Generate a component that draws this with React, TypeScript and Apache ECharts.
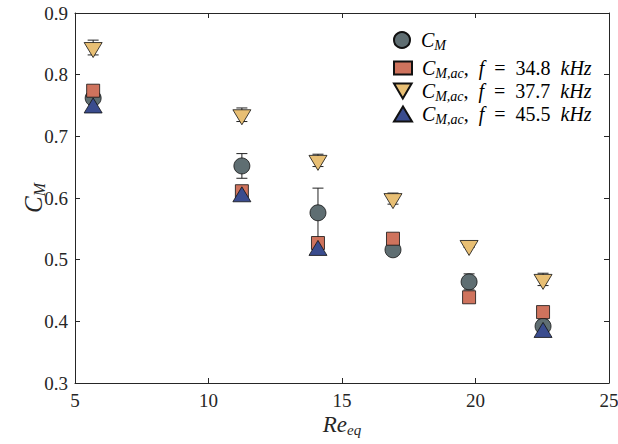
import React, { useEffect, useRef } from "react";
import * as echarts from "echarts";

// Re_eq positions of the six measurement groups
const reEq = [5.68, 11.25, 14.1, 16.91, 19.76, 22.53];
// C_M (circles) and its error half-width
const cM = [0.762, 0.652, 0.576, 0.516, 0.464, 0.392];
const cMErr = [0.005, 0.02, 0.04, 0.004, 0.013, 0.01];
// C_M,ac at f = 34.8 kHz (squares)
const cM348 = [0.774, 0.611, 0.527, 0.534, 0.439, 0.415];
// C_M,ac at f = 37.7 kHz (down triangles) and error half-width
const cM377 = [0.844, 0.735, 0.661, 0.599, 0.523, 0.468];
const cM377Err = [0.012, 0.011, 0.01, 0.009, 0.003, 0.01];
// C_M,ac at f = 45.5 kHz (up triangles), missing at two groups
const cM455: (number | null)[] = [0.746, 0.602, 0.515, null, null, 0.382];

const xTicks = { min: 5, max: 25, interval: 5 };
const yTicks = { min: 0.3, max: 0.9, interval: 0.1 };

const FONT = "'Liberation Serif', 'Times New Roman', Times, serif";
const AX = "#262626";

const legendText: Record<string, string> = {
  CM: "{i|C}{s|M}",
  CM348: "{i|C}{s|M,ac}{r|,  }{i|f}{r|  =  34.8  }{i|kHz}",
  CM377: "{i|C}{s|M,ac}{r|,  }{i|f}{r|  =  37.7  }{i|kHz}",
  CM455: "{i|C}{s|M,ac}{r|,  }{i|f}{r|  =  45.5  }{i|kHz}",
};

const legendRich = {
  i: { fontFamily: FONT, fontStyle: "italic", fontSize: 20, lineHeight: 24, color: "#000" },
  r: { fontFamily: FONT, fontSize: 20, lineHeight: 24, color: "#000" },
  s: { fontFamily: FONT, fontStyle: "italic", fontSize: 14, lineHeight: 15, verticalAlign: "bottom", color: "#000" },
};

const errRender = (params: any, api: any) => {
  const x = api.value(0);
  const lo = api.value(1);
  const hi = api.value(2);
  const t = api.coord([x, hi]);
  const b = api.coord([x, lo]);
  const w = 5.5;
  const style = { stroke: "#222", lineWidth: 1 };
  return {
    type: "group",
    children: [
      { type: "line", shape: { x1: t[0], y1: t[1], x2: b[0], y2: b[1] }, style },
      { type: "line", shape: { x1: t[0] - w, y1: t[1], x2: t[0] + w, y2: t[1] }, style },
      { type: "line", shape: { x1: b[0] - w, y1: b[1], x2: b[0] + w, y2: b[1] }, style },
    ],
  };
};

export default function App() {
  const ref = useRef<HTMLDivElement>(null);
  useEffect(() => {
    if (!ref.current) return;
    const chart = echarts.init(ref.current, null, { renderer: "svg" });

    const pts = (ys: (number | null)[]) =>
      reEq.map((x, i) => [x, ys[i]]).filter((p) => p[1] !== null);
    const errs = (ys: number[], es: number[]) =>
      reEq.map((x, i) => [x, ys[i] - es[i], ys[i] + es[i]]);

    const axisCommon = {
      type: "value",
      axisLine: { show: true, lineStyle: { color: AX, width: 1 } },
      axisTick: { show: true, inside: true, length: 5, lineStyle: { color: AX } },
      splitLine: { show: false },
    };

    const legendItem = (name: string, top: number, w: number, h: number) => ({
      show: true,
      data: [name],
      left: 388,
      top,
      orient: "vertical",
      itemWidth: w,
      itemHeight: h,
      selectedMode: false,
      formatter: (n: string) => legendText[n],
      textStyle: { padding: [0, 0, 0, 5], fontFamily: FONT, rich: legendRich },
    });

    chart.setOption({
      animation: false,
      textStyle: { fontFamily: FONT },
      grid: { left: 75, right: 9, top: 13, bottom: 61, show: false, outerBoundsMode: "none", containLabel: false },
      legend: [
        legendItem("CM", 25, 18, 16),
        legendItem("CM348", 53, 18, 13),
        legendItem("CM377", 76, 18, 15),
        legendItem("CM455", 99, 18, 15),
      ],
      xAxis: [
        {
          ...axisCommon,
          position: "bottom",
          min: xTicks.min,
          max: xTicks.max,
          interval: xTicks.interval,
          axisLabel: { fontSize: 19, color: AX, margin: 8, fontFamily: FONT },
          name: "{i|Re}{s|eq}",
          nameLocation: "middle",
          nameGap: 28,
          nameMoveOverlap: false,
          nameTextStyle: {
            rich: {
              i: { fontFamily: FONT, fontStyle: "italic", fontSize: 23, lineHeight: 26, color: AX },
              s: { fontFamily: FONT, fontStyle: "italic", fontSize: 15, lineHeight: 15, verticalAlign: "bottom", color: AX },
            },
          },
        },
        {
          ...axisCommon,
          position: "top",
          min: xTicks.min,
          max: xTicks.max,
          interval: xTicks.interval,
          axisLabel: { show: false },
        },
      ],
      yAxis: [
        {
          ...axisCommon,
          position: "left",
          min: yTicks.min,
          max: yTicks.max,
          interval: yTicks.interval,
          axisLabel: {
            fontSize: 19,
            color: AX,
            margin: 7,
            fontFamily: FONT,
            formatter: (v: number) => v.toFixed(1),
          },
          name: "{i|C}{s|M}",
          nameLocation: "middle",
          nameGap: 28,
          nameRotate: 90,
          nameMoveOverlap: false,
          nameTextStyle: {
            rich: {
              i: { fontFamily: FONT, fontStyle: "italic", fontSize: 25, lineHeight: 28, color: AX },
              s: { fontFamily: FONT, fontStyle: "italic", fontSize: 16, lineHeight: 16, verticalAlign: "bottom", color: AX },
            },
          },
        },
        {
          ...axisCommon,
          position: "right",
          min: yTicks.min,
          max: yTicks.max,
          interval: yTicks.interval,
          axisLabel: { show: false },
        },
      ],
      series: [
        {
          type: "custom",
          name: "errCM",
          z: 2,
          renderItem: errRender,
          encode: { x: 0, y: [1, 2] },
          data: errs(cM, cMErr),
        },
        {
          type: "scatter",
          name: "CM",
          z: 3,
          symbol: "circle",
          symbolSize: 16,
          itemStyle: { color: "#5f6e72", borderColor: "#111", borderWidth: 0.8, opacity: 1 },
          data: pts(cM),
        },
        {
          type: "scatter",
          name: "CM348",
          z: 4,
          symbol: "rect",
          symbolSize: 13,
          itemStyle: { color: "#cf735d", borderColor: "#111", borderWidth: 0.8, opacity: 1 },
          data: pts(cM348),
        },
        {
          type: "custom",
          name: "errCM377",
          z: 5,
          renderItem: errRender,
          encode: { x: 0, y: [1, 2] },
          data: errs(cM377, cM377Err),
        },
        {
          type: "scatter",
          name: "CM377",
          z: 6,
          symbol: "path://M0,0L20,0L10,17Z",
          symbolSize: [18, 15],
          symbolOffset: [0, 2.5],
          itemStyle: { color: "#e8bf74", borderColor: "#111", borderWidth: 0.8, opacity: 1 },
          data: pts(cM377),
        },
        {
          type: "scatter",
          name: "CM455",
          z: 7,
          symbol: "triangle",
          symbolSize: [18, 15],
          symbolOffset: [0, -2.5],
          itemStyle: { color: "#3a4c8e", borderColor: "#111", borderWidth: 0.8, opacity: 1 },
          data: pts(cM455),
        },
      ],
    });
    return () => chart.dispose();
  }, []);

  return (
    <div
      ref={ref}
      style={{ position: "fixed", left: 0, top: 0, width: 618, height: 444, background: "#fff" }}
    />
  );
}
